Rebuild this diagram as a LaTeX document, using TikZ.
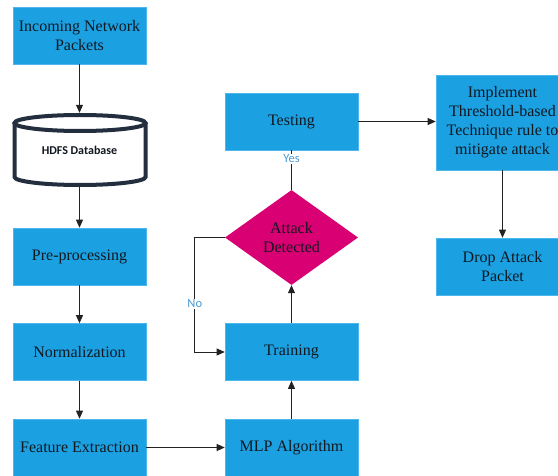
\documentclass[tikz,border=0pt]{standalone}
\usepackage{fontspec}
\setmainfont{Liberation Serif}
\newfontfamily\lblfont{Carlito}
\usetikzlibrary{shapes.geometric,arrows.meta}
\definecolor{boxblue}{HTML}{1BA1E2}
\definecolor{boxedge}{HTML}{4DB6EA}
\definecolor{magenta}{HTML}{D80073}
\definecolor{dbline}{HTML}{232F3E}
\definecolor{lblblue}{HTML}{4B9AD5}
\definecolor{txt}{HTML}{111820}
\definecolor{arr}{HTML}{222222}
\tikzset{
  procbox/.style={rectangle, fill=boxblue, draw=boxedge, line width=0.6pt,
    minimum width=133pt, minimum height=57pt, inner sep=0pt, align=center,
    text=txt, font=\fontsize{16}{19}\selectfont},
  decision/.style={diamond, fill=magenta, draw=none, aspect=1.4, inner sep=0pt,
    minimum width=133pt, minimum height=95pt, align=center,
    text=txt, font=\fontsize{16}{19}\selectfont},
  flow/.style={draw=arr, line width=0.8pt, -{Triangle[length=8pt,width=7pt]}},
  plain/.style={draw=arr, line width=0.8pt},
  edgelbl/.style={fill=white, inner sep=1pt, text=lblblue, font=\lblfont\fontsize{12.5}{14}\selectfont},
  cyl/.style={draw=dbline, line width=4pt}
}
\begin{document}
\begin{tikzpicture}[x=1pt,y=-1pt]
\useasboundingbox (0,0) rectangle (558,476);
\clip (0,0) rectangle (558,476);
% left column
\node[procbox] (inc) at (79.5,35.5) {Incoming Network\\Packets};
% cylinder
\fill[white] (14.5,123) -- (14.5,177) arc[start angle=180,end angle=0,x radius=65.5,y radius=8] -- (145.5,123) arc[start angle=0,end angle=-180,x radius=65.5,y radius=8] -- cycle;
\draw[cyl] (14.5,123) -- (14.5,177) arc[start angle=180,end angle=0,x radius=65.5,y radius=8] -- (145.5,123);
\draw[cyl] (80,123) ellipse[x radius=65.5,y radius=8];
\node[minimum width=135pt, minimum height=74pt, inner sep=0pt, text=txt,
  font=\lblfont\bfseries\fontsize{12}{14}\selectfont] (db) at (79.5,150) {\raisebox{-1.7pt}{HDFS Database}};
\node[procbox] (pre) at (79.5,256.5) {Pre-processing};
\node[procbox] (norm) at (79.5,352) {Normalization};
\node[procbox] (feat) at (79.5,447.5) {Feature Extraction};
% middle column
\node[procbox] (mlp) at (291.5,447.5) {MLP Algorithm};
\node[procbox] (train) at (291.5,352) {Training};
\node[decision] (diam) at (291.5,237.5) {Attack\\Detected};
\node[procbox] (test) at (291.5,121.5) {Testing};
% right column
\node[procbox, minimum height=95pt] (impl) at (502.5,122.5) {Implement\\Threshold-based\\Technique rule to\\mitigate attack};
\node[procbox] (drop) at (502.5,266.5) {Drop Attack\\Packet};
% connectors
\draw[flow] (inc) -- (db);
\draw[flow] (db) -- (pre);
\draw[flow] (pre) -- (norm);
\draw[flow] (norm) -- (feat);
\draw[flow] (feat) -- (mlp);
\draw[flow] (mlp) -- (train);
\draw[flow] (train) -- (diam);
\draw[plain] (diam.north) -- node[edgelbl, pos=0.78] {Yes} (test.south);
\draw[flow] (diam.west) -- ++(-30,0) |- node[edgelbl, pos=0.29] {No} (train.west);
\draw[flow] (test.east) -- (impl.west |- test.east);
\draw[flow] (impl) -- (drop);
\end{tikzpicture}
\end{document}
